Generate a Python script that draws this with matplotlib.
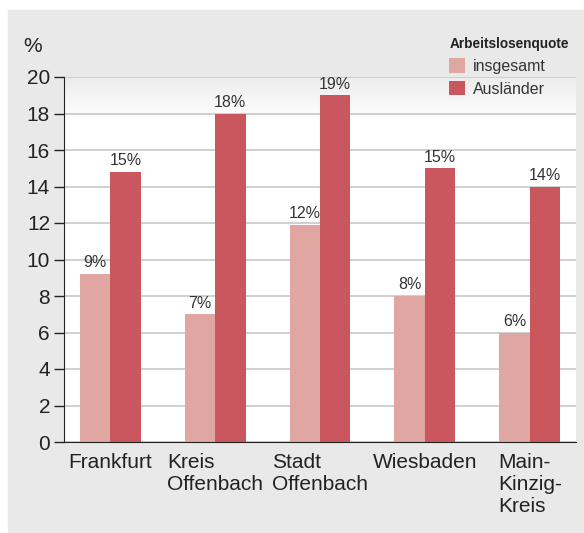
import matplotlib.pyplot as plt
import numpy as np
from matplotlib.patches import Rectangle
from matplotlib.colors import LinearSegmentedColormap

# Arbeitslosenquote nach Kreis
regions = ['Frankfurt', 'Kreis\nOffenbach', 'Stadt\nOffenbach', 'Wiesbaden', 'Main-\nKinzig-\nKreis']
insgesamt = [9.2, 7.0, 11.9, 8.0, 6.0]
auslaender = [14.8, 18.0, 19.0, 15.0, 14.0]
yticks = [0, 2, 4, 6, 8, 10, 12, 14, 16, 18, 20]

c_light = '#e0a6a1'
c_dark = '#ca575d'
panel = '#e9e9e9'

plt.rcParams['font.family'] = ['Liberation Sans', 'DejaVu Sans']

fig = plt.figure(figsize=(5.84, 5.33), dpi=100)
fig.patches.append(Rectangle((8 / 584, 1 / 533), 1, 522 / 533, transform=fig.transFigure,
                             color=panel, zorder=-10))

ax = fig.add_axes([64 / 584, 91 / 533, 512 / 584, 365 / 533])
ax.set_facecolor('white')

x = np.arange(len(regions))
w = 0.29

# soft gradient at the top of the plot area
grad = np.linspace(0, 1, 100).reshape(-1, 1)
ax.imshow(grad, extent=[-0.44, 4.44, 17.7, 20], aspect='auto',
          cmap=LinearSegmentedColormap.from_list('g', ['white', '#ececec']),
          origin='lower', zorder=0)

ax.bar(x - w / 2, insgesamt, w, color=c_light, label='insgesamt', zorder=2)
ax.bar(x + w / 2, auslaender, w, color=c_dark, label='Ausländer', zorder=2)

for xi, v in zip(x - w / 2, insgesamt):
    ax.text(xi, v + 0.2, f'{v:.0f}%', ha='center', va='bottom', fontsize=11.5, color='#333333', zorder=3)
for xi, v in zip(x + w / 2, auslaender):
    ax.text(xi, v + 0.2, f'{v:.0f}%', ha='center', va='bottom', fontsize=11.5, color='#333333', zorder=3)

ax.set_xlim(-0.44, 4.44)
ax.set_ylim(0, 20)
ax.set_yticks(yticks)
ax.set_yticklabels([str(t) for t in yticks], fontsize=15, color='#222222')
ax.set_xticks(x)
ax.set_xticklabels(regions, fontsize=15, color='#222222', multialignment='left', linespacing=1.2)
ax.tick_params(axis='y', length=7, width=1, color='#222222', pad=3)
ax.tick_params(axis='x', length=0, pad=8)
ax.yaxis.grid(True, color='#c8c8c8', linewidth=1.2, zorder=1)
ax.set_axisbelow(True)
for s in ['top', 'right']:
    ax.spines[s].set_visible(False)
ax.spines['left'].set_color('#222222')
ax.spines['bottom'].set_color('#222222')

fig.text(23 / 584, 1 - 47 / 533, '%', fontsize=15, color='#222222', va='center', ha='left')

leg = ax.legend(loc='upper left', bbox_to_anchor=(438 / 584, 1 - 26 / 533), bbox_transform=fig.transFigure,
                frameon=False, fontsize=11.5, title='Arbeitslosenquote', handlelength=1.0, handleheight=1.0,
                handletextpad=0.5, labelspacing=0.45, borderpad=0.2, alignment='left',
                title_fontproperties={'weight': 'bold', 'size': 9.8})
for t in leg.get_texts():
    t.set_color('#333333')
leg.get_title().set_color('#222222')

fig.savefig('out.png', dpi=100)
